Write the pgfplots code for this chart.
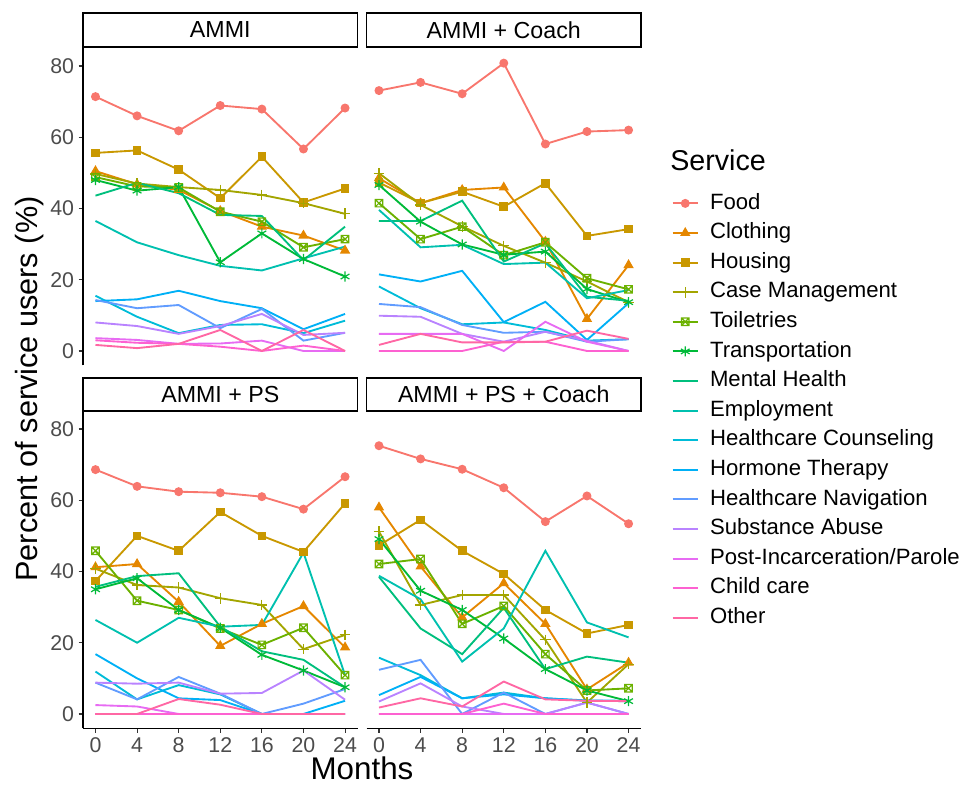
\documentclass[border=0pt]{standalone}
\usepackage{fontspec}
\setmainfont{Liberation Sans}
\usepackage{pgfplots}
\usepackage{pgfplotstable}
\pgfplotsset{compat=1.18}
\usetikzlibrary{plotmarks}

% service colours (hue palette, 15 levels)
\definecolor{cFood}{HTML}{F8766D}
\definecolor{cCloth}{HTML}{E58700}
\definecolor{cHouse}{HTML}{C99800}
\definecolor{cCase}{HTML}{A3A500}
\definecolor{cToil}{HTML}{6BB100}
\definecolor{cTrans}{HTML}{00BA38}
\definecolor{cMental}{HTML}{00BF7D}
\definecolor{cEmploy}{HTML}{00C0AF}
\definecolor{cHcc}{HTML}{00BCD8}
\definecolor{cHorm}{HTML}{00B0F6}
\definecolor{cHcn}{HTML}{619CFF}
\definecolor{cSubs}{HTML}{B983FF}
\definecolor{cPost}{HTML}{E76BF3}
\definecolor{cChild}{HTML}{FD61D1}
\definecolor{cOther}{HTML}{FF67A4}

% open square with a cross inside
\pgfdeclareplotmark{sqx}{%
  \pgfpathrectangle{\pgfqpoint{-\pgfplotmarksize}{-\pgfplotmarksize}}{\pgfqpoint{2\pgfplotmarksize}{2\pgfplotmarksize}}%
  \pgfpathmoveto{\pgfqpoint{-\pgfplotmarksize}{-\pgfplotmarksize}}%
  \pgfpathlineto{\pgfqpoint{\pgfplotmarksize}{\pgfplotmarksize}}%
  \pgfpathmoveto{\pgfqpoint{-\pgfplotmarksize}{\pgfplotmarksize}}%
  \pgfpathlineto{\pgfqpoint{\pgfplotmarksize}{-\pgfplotmarksize}}%
  \pgfusepathqstroke}

% percent of service users by month, one table per arm
\pgfplotstableread{
m  food cloth house case toil trans mental employ hcc horm hcn subs post child other
0  71.4 50.5 55.6 49.7 48.8 48.0 43.6 36.5 15.5 14.0 14.3 8.0 3.6 3.0 1.7
4  66.0 46.8 56.3 47.0 46.2 45.0 47.2 30.5 9.6 14.5 12.0 7.0 3.1 2.3 0.8
8  61.8 45.2 50.9 46.0 45.9 46.0 44.3 26.9 5.0 16.9 12.9 4.8 2.0 2.0 2.0
12 68.9 39.3 42.9 45.2 39.1 24.9 38.2 23.9 7.3 14.0 6.4 7.0 2.1 1.2 5.9
16 67.9 34.9 54.5 43.8 36.3 33.0 37.9 22.6 7.5 12.0 11.8 10.4 2.9 0 0
20 56.7 32.4 41.7 41.5 29.1 25.8 25.5 26.0 5.0 6.1 2.9 4.5 0 1.5 5.9
24 68.2 28.2 45.6 38.5 31.4 20.9 34.9 29.3 8.5 10.4 5.1 5.1 0 0 0
}\tabA
\pgfplotstableread{
m  food cloth house case toil trans mental employ hcc horm hcn subs post child other
0  73.1 48.5 47.3 49.9 41.5 46.6 36.5 39.6 18.1 21.5 13.2 9.9 4.8 0 1.7
4  75.4 41.5 41.5 41.0 31.4 36.3 36.5 29.1 12.0 19.5 12.3 9.6 4.8 0 4.8
8  72.2 45.2 44.7 35.0 34.9 29.9 42.2 29.8 7.5 22.5 7.3 4.8 4.8 0 2.4
12 80.8 45.9 40.5 29.5 26.9 27.0 25.1 24.4 8.0 8.1 5.1 2.6 0 2.6 2.4
16 58.1 30.7 47.1 24.8 30.5 27.9 30.2 24.8 5.9 13.8 5.4 5.4 8.2 2.6 2.6
20 61.6 9.0 32.3 19.5 20.4 17.4 15.2 14.8 2.9 3.1 2.6 2.9 2.6 0 5.7
24 62.0 24.1 34.2 13.7 17.3 13.7 14.1 17.1 3.3 13.4 3.3 0 0 0 3.4
}\tabB
\pgfplotstableread{
m  food cloth house case toil trans mental employ hcc horm hcn subs post child other
0  68.6 41.2 37.3 40.8 45.8 35.0 35.7 26.4 11.9 16.8 8.8 8.8 2.5 0 0
4  63.9 42.1 50.0 36.2 31.8 38.1 38.7 20.0 4.1 10.0 4.1 8.5 2.1 0 0
8  62.4 31.5 45.8 35.5 29.2 29.2 39.5 27.0 8.1 4.4 10.4 8.8 0 0 4.2
12 62.1 19.1 56.7 32.5 24.0 24.2 24.5 24.5 5.5 3.9 5.7 5.7 0 0 2.6
16 61.0 25.3 50.0 30.6 19.4 16.6 17.6 25.0 0 0 0 5.9 0 0 0
20 57.5 30.3 45.5 18.2 24.2 12.2 15.2 45.3 0 0 2.9 12.2 0 0 0
24 66.6 18.7 59.1 22.2 10.9 7.5 7.5 10.9 0 3.7 7.0 4.0 0 0 0
}\tabC
\pgfplotstableread{
m  food cloth house case toil trans mental employ hcc horm hcn subs post child other
0  75.3 58.0 47.3 51.2 42.1 49.1 38.5 38.8 15.8 5.3 12.4 3.5 0 0 1.8
4  71.6 41.4 54.5 30.6 43.5 34.6 24.0 32.2 10.9 10.4 15.2 8.6 0 0 4.4
8  68.7 27.1 45.8 33.4 25.3 29.2 16.8 14.7 4.4 4.4 0 2.1 0 0 2.1
12 63.5 36.7 39.3 33.4 30.3 21.2 29.8 24.0 6.0 5.5 6.0 0 0 2.9 9.1
16 54.0 25.3 29.2 20.8 16.8 12.6 12.6 45.8 4.4 4.4 0 0 0 0 4.1
20 61.2 6.9 22.6 3.2 6.6 6.6 16.1 25.7 3.7 3.8 3.2 3.2 0 0 3.7
24 53.4 14.4 25.0 14.0 7.2 3.6 14.4 21.5 3.6 3.7 0 0 0 0 3.6
}\tabD

\pgfplotsset{
  ln/.style={line width=1.4pt, mark options={solid, line width=0.9pt}},
  sFood/.style={ln, color=cFood, mark=*, mark size=2.9pt},
  sCloth/.style={ln, color=cCloth, mark=triangle*, mark size=3.6pt},
  sHouse/.style={ln, color=cHouse, mark=square*, mark size=2.8pt},
  sCase/.style={ln, color=cCase, mark=+, mark size=4pt},
  sToil/.style={ln, color=cToil, mark=sqx, mark size=2.8pt},
  sTrans/.style={ln, color=cTrans, mark=asterisk, mark size=3.8pt},
  sMental/.style={ln, color=cMental, mark=none},
  sEmploy/.style={ln, color=cEmploy, mark=none},
  sHcc/.style={ln, color=cHcc, mark=none},
  sHorm/.style={ln, color=cHorm, mark=none},
  sHcn/.style={ln, color=cHcn, mark=none},
  sSubs/.style={ln, color=cSubs, mark=none},
  sPost/.style={ln, color=cPost, mark=none},
  sChild/.style={ln, color=cChild, mark=none},
  sOther/.style={ln, color=cOther, mark=none},
  panel/.style={
    scale only axis, width=205.9pt, height=238.05pt,
    xmin=-1.2, xmax=25.2, ymin=-4.05, ymax=85.05,
    axis line style={-, line width=0.8pt, black},
    tick style={line width=0.8pt, black!80},
    major tick length=3.2pt, tick align=outside,
    ticklabel style={font=\fontsize{16}{19}\selectfont, text=black!70},
    /pgf/number format/assume math mode=true,
    clip=false,
  },
  leftcol/.style={axis y line*=left, ytick={0,20,40,60,80}},
  rightcol/.style={axis y line=none},
  toprow/.style={axis x line=none},
  bottomrow/.style={axis x line*=bottom, xtick={0,4,8,12,16,20,24}},
}

\newcommand{\drawservices}[1]{%
  \addplot[sFood]   table[x=m,y=food]{#1};
  \addplot[sCloth]  table[x=m,y=cloth]{#1};
  \addplot[sHouse]  table[x=m,y=house]{#1};
  \addplot[sCase]   table[x=m,y=case]{#1};
  \addplot[sToil]   table[x=m,y=toil]{#1};
  \addplot[sTrans]  table[x=m,y=trans]{#1};
  \addplot[sMental] table[x=m,y=mental]{#1};
  \addplot[sEmploy] table[x=m,y=employ]{#1};
  \addplot[sHcc]    table[x=m,y=hcc]{#1};
  \addplot[sHorm]   table[x=m,y=horm]{#1};
  \addplot[sHcn]    table[x=m,y=hcn]{#1};
  \addplot[sSubs]   table[x=m,y=subs]{#1};
  \addplot[sPost]   table[x=m,y=post]{#1};
  \addplot[sChild]  table[x=m,y=child]{#1};
  \addplot[sOther]  table[x=m,y=other]{#1};
}

\begin{document}
\begin{tikzpicture}
\path[use as bounding box] (0pt,0pt) rectangle (729.75pt,589.5pt);

\begin{axis}[panel, leftcol, toprow, at={(62.25pt,315.45pt)}, anchor=south west]
  \drawservices{\tabA}
\end{axis}

\begin{axis}[panel, rightcol, toprow, at={(274.875pt,315.45pt)}, anchor=south west,
  legend entries={Food,Clothing,Housing,Case Management,Toiletries,Transportation,
    Mental Health,Employment,Healthcare Counseling,Hormone Therapy,
    Healthcare Navigation,Substance Abuse,Post-Incarceration/Parole,Child care,Other},
  legend style={at={(axis description cs:1.112,0.543)}, anchor=north west,
    draw=none, fill=none, inner sep=0pt, outer sep=0pt, row sep=6.7pt,
    font=\fontsize{16.6}{19}\selectfont,
    nodes={inner sep=0pt, text height=12pt, text depth=3.5pt},
    /tikz/every odd column/.append style={column sep=8.5pt}},
  legend cell align=left,
  legend image code/.code={\draw[mark repeat=2,mark phase=2] plot coordinates {(0pt,0pt) (9.4pt,0pt) (18.8pt,0pt)};},
]
  \drawservices{\tabB}
\end{axis}

\begin{axis}[panel, leftcol, bottomrow, at={(62.25pt,43.2pt)}, anchor=south west]
  \drawservices{\tabC}
\end{axis}

\begin{axis}[panel, rightcol, bottomrow, at={(274.875pt,43.2pt)}, anchor=south west]
  \drawservices{\tabD}
\end{axis}

% facet strips
\begin{scope}[line width=1.3pt, font=\fontsize{17.4}{20}\selectfont]
  \draw[fill=white] (62.25pt,554.25pt) rectangle (268.15pt,579.75pt);
  \node at (165.2pt,567pt) {AMMI};
  \draw[fill=white] (274.875pt,554.25pt) rectangle (480.8pt,579.75pt);
  \node at (377.8pt,567pt) {AMMI + Coach};
  \draw[fill=white] (62.25pt,281.25pt) rectangle (268.15pt,306pt);
  \node at (165.2pt,293.6pt) {AMMI + PS};
  \draw[fill=white] (274.875pt,281.25pt) rectangle (480.8pt,306pt);
  \node at (377.8pt,293.6pt) {AMMI + PS + Coach};
\end{scope}

% axis titles and legend title
\node[rotate=90, font=\fontsize{23}{27}\selectfont] at (22.5pt,297.75pt) {Percent of service users (\%)};
\node[font=\fontsize{23.5}{27}\selectfont] at (271.5pt,13pt) {Months};
\node[anchor=west, inner sep=0pt, font=\fontsize{21.5}{25}\selectfont] at (502.5pt,469.5pt) {Service};
\end{tikzpicture}
\end{document}
